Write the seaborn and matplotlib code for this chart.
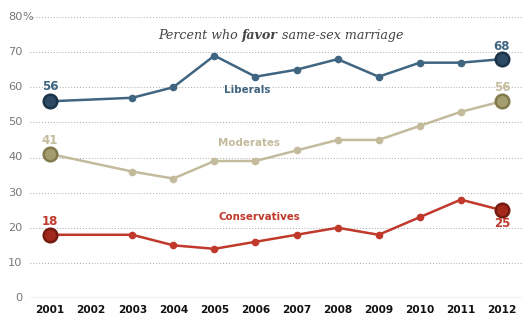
import matplotlib
matplotlib.use("Agg")
import matplotlib.pyplot as plt
import matplotlib.transforms as mtransforms
import seaborn as sns
import pandas as pd

years = [2001, 2003, 2004, 2005, 2006, 2007, 2008, 2009, 2010, 2011, 2012]
liberals = [56, 57, 60, 69, 63, 65, 68, 63, 67, 67, 68]
moderates = [41, 36, 34, 39, 39, 42, 45, 45, 49, 53, 56]
conservatives = [18, 18, 15, 14, 16, 18, 20, 18, 23, 28, 25]
year_ticks = list(range(2001, 2013))
y_ticks = [0, 10, 20, 30, 40, 50, 60, 70, 80]
title_parts = ["Percent who ", "favor", " same-sex marriage"]

series = {"Liberals": liberals, "Moderates": moderates, "Conservatives": conservatives}
df = pd.DataFrame([
    {"year": y, "group": g, "pct": v}
    for g, vals in series.items() for y, v in zip(years, vals)
])

colors = {"Liberals": "#3f6580", "Moderates": "#c3bb9c", "Conservatives": "#c0392b"}
end_fill = {"Liberals": "#2c4a63", "Moderates": "#a49d70", "Conservatives": "#a3281c"}
end_edge = {"Liberals": "#1c3347", "Moderates": "#827a4a", "Conservatives": "#741a10"}

sns.set_theme(style="white")
plt.rcParams["font.family"] = ["DejaVu Sans"]

fig = plt.figure(figsize=(5.3, 3.25), dpi=100)
ax = fig.add_axes([30 / 530, 27 / 325, 492 / 530, 281 / 325])

# dotted gridlines
for t in y_ticks[1:]:
    ax.axhline(t, color="#a8a8a8", lw=0.7, ls=(0, (1, 2)), zorder=0)
ax.axhline(0, color="#b8b8b8", lw=1.0, zorder=0)

sns.lineplot(data=df, x="year", y="pct", hue="group", palette=colors,
             lw=1.8, marker="o", markersize=5.5, markeredgewidth=0,
             legend=False, ax=ax, zorder=3)

ends = df[df["year"].isin([years[0], years[-1]])]
for g in series:
    sub = ends[ends["group"] == g]
    sns.scatterplot(data=sub, x="year", y="pct", s=95, color=end_fill[g],
                    edgecolor=end_edge[g], linewidth=1.8, legend=False,
                    ax=ax, zorder=4)

ax.set_xlim(2000.51, 2012.49)
ax.set_ylim(0, 80)
for s in ax.spines.values():
    s.set_visible(False)
ax.set_xlabel("")
ax.set_ylabel("")
ax.set_xticks(year_ticks)
ax.set_xticklabels([str(y) for y in year_ticks], fontsize=7.6,
                   fontweight="bold", color="#111111")
ax.tick_params(axis="x", length=0, pad=5)
ax.set_yticks([])

# y tick labels
off = mtransforms.blended_transform_factory(ax.transAxes, ax.transData)
xl = -7.5 / 492
for t in y_ticks:
    ax.text(xl, t, str(t), transform=off, ha="right", va="center",
            fontsize=8.2, color="#777777")
ax.text(xl, 80, "%", transform=off, ha="left", va="center",
        fontsize=8.2, color="#777777")

# series names
ax.text(2005.8, 59.3, "Liberals", color="#3f6580", fontsize=7.4,
        fontweight="bold", ha="center", va="center")
ax.text(2005.85, 44.2, "Moderates", color="#c3bb9c", fontsize=7.4,
        fontweight="bold", ha="center", va="center")
ax.text(2006.1, 23.0, "Conservatives", color="#c0392b", fontsize=7.4,
        fontweight="bold", ha="center", va="center")

# end values
lab_kw = dict(fontsize=8.5, fontweight="bold", ha="center", va="center")
ax.text(years[0], liberals[0] + 4.1, str(liberals[0]), color="#3f6580", **lab_kw)
ax.text(years[-1], liberals[-1] + 3.6, str(liberals[-1]), color="#3f6580", **lab_kw)
ax.text(years[0], moderates[0] + 3.8, str(moderates[0]), color="#c3bb9c", **lab_kw)
ax.text(years[-1], moderates[-1] + 3.8, str(moderates[-1]), color="#c3bb9c", **lab_kw)
ax.text(years[0], conservatives[0] + 3.9, str(conservatives[0]), color="#c0392b", **lab_kw)
ax.text(years[-1], conservatives[-1] - 3.9, str(conservatives[-1]), color="#c0392b", **lab_kw)

# title, built from pieces so that "favor" can be bold
renderer = fig.canvas.get_renderer()
pieces = []
for i, part in enumerate(title_parts):
    t = fig.text(0, 0, part, fontsize=9.1, style="italic",
                 fontweight="bold" if i == 1 else "normal",
                 family="DejaVu Serif", color="#444444",
                 ha="left", va="baseline")
    pieces.append(t)
widths = [p.get_window_extent(renderer).width for p in pieces]
total = sum(widths)
x0 = 281 - total / 2
base_y = 1 - 39 / 325
for p, w in zip(pieces, widths):
    p.set_position((x0 / 530, base_y))
    x0 += w

fig.savefig("out.png", dpi=100)
